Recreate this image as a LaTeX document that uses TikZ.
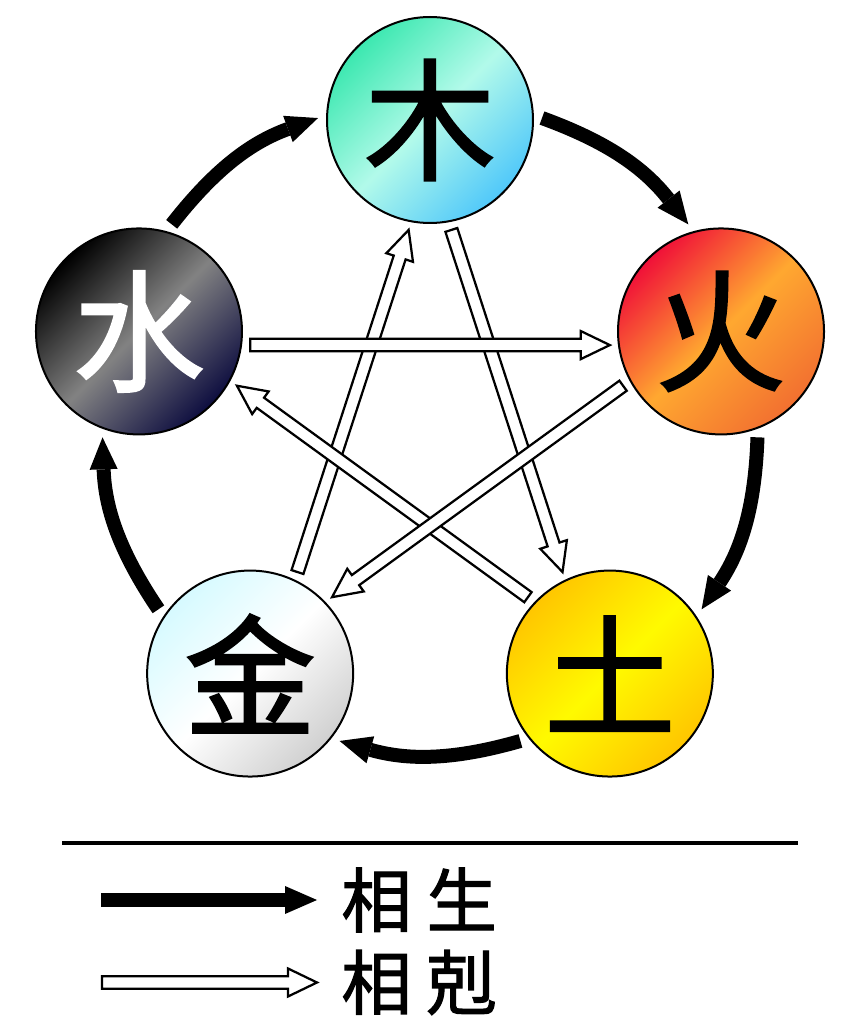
\documentclass[tikz,border=0pt]{standalone}
\usepackage{fontspec}
\newfontfamily\cjk[FakeBold=1.6]{Noto Sans CJK TC}
\usetikzlibrary{arrows.meta,calc}
\definecolor{mugreen}{RGB}{60,232,176}
\definecolor{mupale}{RGB}{178,250,234}
\definecolor{mublue}{RGB}{80,200,250}
\definecolor{huored}{RGB}{240,16,56}
\definecolor{huoorange}{RGB}{255,168,48}
\definecolor{huodeep}{RGB}{242,112,48}
\definecolor{tugold}{RGB}{255,198,0}
\definecolor{tuyellow}{RGB}{255,250,0}
\definecolor{jincyan}{RGB}{214,250,255}
\definecolor{jingray}{RGB}{208,208,208}
\definecolor{shuigray}{RGB}{130,130,130}
\definecolor{shuinavy}{RGB}{14,14,64}
\tikzset{
  xing/.style={circle,draw,line width=0.04cm,minimum size=4.12cm,inner sep=0pt,
    outer sep=0.18cm,font=\cjk\fontsize{75}{75}\selectfont},
  sheng/.style={line width=0.28cm,-{Triangle[length=0.64cm,width=0.56cm,line width=0pt]}},
  ke/.style={draw,fill=white,line width=0.045cm,line join=miter,to path={
    ($(\tikztostart)!0.125cm!90:(\tikztotarget)$)
    -- ($(\tikztotarget)!0.58cm!(\tikztostart)!0.125cm!90:(\tikztotarget)$)
    -- ($(\tikztotarget)!0.58cm!(\tikztostart)!0.28cm!90:(\tikztotarget)$)
    -- (\tikztotarget)
    -- ($(\tikztotarget)!0.58cm!(\tikztostart)!0.28cm!-90:(\tikztotarget)$)
    -- ($(\tikztotarget)!0.58cm!(\tikztostart)!0.125cm!-90:(\tikztotarget)$)
    -- ($(\tikztostart)!0.125cm!-90:(\tikztotarget)$) -- cycle}},
  legend/.style={anchor=west,inner sep=0pt,font=\cjk\fontsize{40}{40}\selectfont}
}
\begin{document}
\begin{tikzpicture}
    \useasboundingbox (0,0) rectangle (17.2,20.48);
    \coordinate (c) at (8.6,11.96);
    % the five phases
    \node[xing,top color=mugreen,bottom color=mublue,middle color=mupale,shading angle=45] (mu) at ($(c)+(90:6.12)$) {木};
    \node[xing,top color=huored,bottom color=huodeep,middle color=huoorange,shading angle=45] (huo) at ($(c)+(18:6.12)$) {火};
    \node[xing,top color=tugold,bottom color=tugold,middle color=tuyellow,shading angle=45] (tu) at ($(c)+(-54:6.12)$) {土};
    \node[xing,top color=jincyan,bottom color=jingray,middle color=white,shading angle=45] (jin) at ($(c)+(-126:6.12)$) {金};
    \node[xing,top color=black,bottom color=shuinavy,middle color=shuigray,shading angle=45,text=white] (shui) at ($(c)+(162:6.12)$) {水};
    % generating cycle
    \draw[sheng] (mu.1) to[bend left=16] (huo.107);
    \draw[sheng] (huo.-71) to[bend left=16] (tu.35);
    \draw[sheng] (tu.-143) to[bend left=16] (jin.-37);
    \draw[sheng] (jin.145) to[bend left=16] (shui.251);
    \draw[sheng] (shui.73) to[bend left=16] (mu.179);
    % overcoming star
    \draw[ke] (mu.-79) to (tu.115);
    \draw[ke] (jin.65) to (mu.259);
    \draw[ke] (shui.-7) to (huo.187);
    \draw[ke] (tu.137) to (shui.-29);
    \draw[ke] (huo.209) to (jin.43);
    % legend
    \coordinate (la) at (1.24,3.62);
    \coordinate (lb) at (15.96,3.62);
    \draw[line width=0.08cm] (la) -- (lb);
    \coordinate (sa) at (2.02,2.48);
    \coordinate (sb) at (6.34,2.48);
    \draw[sheng] (sa) -- (sb);
    \node[legend] (shengtxt) at (6.82,2.48) {相\hspace{0.3cm}生};
    \coordinate (ka) at (2.04,0.83);
    \coordinate (kb) at (6.34,0.83);
    \draw[ke] (ka) to (kb);
    \node[legend] (ketxt) at (6.82,0.83) {相\hspace{0.3cm}剋};
\end{tikzpicture}
\end{document}
